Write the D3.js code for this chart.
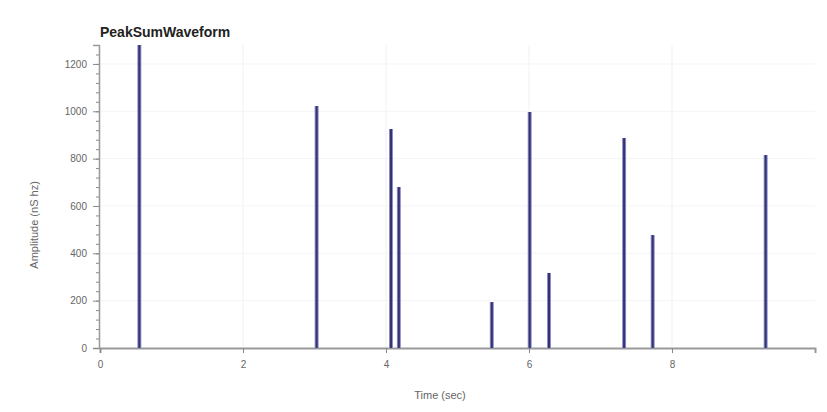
<!DOCTYPE html>
<html>
<head>
<meta charset="utf-8">
<script src="https://cdn.jsdelivr.net/npm/d3@7"></script>
<style>
  body { margin: 0; background: #fff; }
  text { font-family: "Liberation Sans", Arial, sans-serif; }
</style>
</head>
<body>
<svg id="chart" width="827" height="412"></svg>
<script>
// peak times (sec) and amplitudes
const peakTimes = [0.55, 3.03, 4.07, 4.18, 5.48, 6.01, 6.28, 7.33, 7.73, 9.31]
const peakValues = [1280, 1022, 925, 680, 194, 997, 317, 887, 477, 815]
const xTicks = [0, 2, 4, 6, 8]
const yTicks = [0, 200, 400, 600, 800, 1000, 1200]

const svg = d3.select('#chart')

const x = d3.scaleLinear().domain([0, 10]).range([100, 815])
const y = d3.scaleLinear().domain([0, 1280]).range([348, 45])

// faint grid
svg.append('g')
  .selectAll('line')
  .data(xTicks.slice(1))
  .join('line')
  .attr('x1', d => x(d)).attr('x2', d => x(d))
  .attr('y1', y(1280)).attr('y2', y(0))
  .attr('stroke', '#f1f1f1')

svg.append('g')
  .selectAll('line')
  .data(yTicks.slice(1))
  .join('line')
  .attr('x1', x(0)).attr('x2', x(10))
  .attr('y1', d => y(d)).attr('y2', d => y(d))
  .attr('stroke', '#f4f4f4')

// minor y ticks
svg.append('g')
  .attr('transform', `translate(${x(0) - 1},0)`)
  .call(d3.axisLeft(y).tickValues(d3.range(0, 1281, 40)).tickSize(3).tickFormat(''))
  .call(g => g.select('.domain').remove())
  .call(g => g.selectAll('line').attr('stroke', '#888'))

// y axis
svg.append('g')
  .attr('transform', `translate(${x(0) - 1},0)`)
  .call(d3.axisLeft(y).tickValues(yTicks).tickSize(6).tickPadding(6).tickFormat(d3.format('d')))
  .call(g => g.select('.domain').attr('stroke', '#999').attr('stroke-width', 1.5))
  .call(g => g.selectAll('line').attr('stroke', '#888'))
  .call(g => g.selectAll('text').attr('fill', '#666').attr('font-size', 10))

// x axis
svg.append('g')
  .attr('transform', `translate(0,${y(0)})`)
  .call(d3.axisBottom(x).tickValues(xTicks).tickSize(5).tickPadding(8))
  .call(g => g.select('.domain').attr('stroke', '#999').attr('stroke-width', 2))
  .call(g => g.selectAll('line').attr('stroke', '#888'))
  .call(g => g.selectAll('text').attr('fill', '#666').attr('font-size', 10))

// spikes
const peaks = peakTimes.map((t, i) => ({t, v: peakValues[i]}))
svg.append('g')
  .selectAll('line')
  .data(peaks)
  .join('line')
  .attr('x1', d => x(d.t)).attr('x2', d => x(d.t))
  .attr('y1', y(0)).attr('y2', d => y(d.v))
  .attr('stroke', '#8c8cc8')
  .attr('stroke-width', 4)
svg.append('g')
  .selectAll('line')
  .data(peaks)
  .join('line')
  .attr('x1', d => x(d.t)).attr('x2', d => x(d.t))
  .attr('y1', y(0)).attr('y2', d => y(d.v))
  .attr('stroke', '#33336f')
  .attr('stroke-width', 2)

// title and labels
svg.append('text')
  .attr('x', 100).attr('y', 37)
  .attr('font-size', 14).attr('font-weight', 'bold').attr('fill', '#222')
  .text('PeakSumWaveform')

svg.append('text')
  .attr('x', 440).attr('y', 399)
  .attr('text-anchor', 'middle')
  .attr('font-size', 11).attr('fill', '#666')
  .text('Time (sec)')

svg.append('text')
  .attr('transform', `translate(38,${y(520)}) rotate(-90)`)
  .attr('text-anchor', 'middle')
  .attr('font-size', 11).attr('fill', '#666')
  .text('Amplitude (nS hz)')
</script>
</body>
</html>
